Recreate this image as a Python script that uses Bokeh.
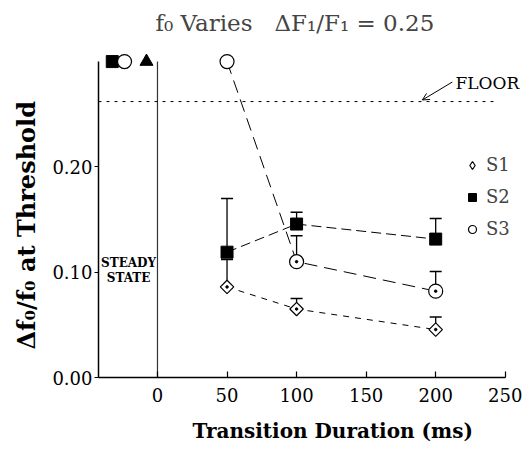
import math
from bokeh.plotting import figure
from bokeh.models import (ColumnDataSource, Whisker, TeeHead, Label, Arrow, OpenHead,
                          Legend, LegendItem, FixedTicker, NumeralTickFormatter, Range1d,
                          Title)
from bokeh.embed import file_html
from bokeh.resources import INLINE

# ---------------- data ----------------
durations = [50, 100, 200]
s1_thr = [0.086, 0.065, 0.0455]
s1_upper = [0.112, 0.075, 0.0575]
s2_thr = [0.119, 0.1457, 0.1314]
s2_upper = [0.170, 0.157, 0.151]
s3_thr = [0.300, 0.110, 0.082]
s3_upper = [float("nan"), 0.1345, 0.1007]

steady_s2_x = [-32.5]
steady_s2_y = [0.30]
steady_s3_x = [-23.7]
steady_s3_y = [0.30]
steady_tri_x = [-7.9]
steady_tri_y = [0.30]

floor_value = 0.262
floor_x_end = 243
divider_x = 0
y_top = 0.30

x_ticks = [0, 50, 100, 150, 200, 250]
y_ticks = [0.0, 0.1, 0.2]

x_start, x_end = -42.4, 266
y_start, y_end = 0.0, 0.32

SERIF = "DejaVu Serif"

p = figure(width=532, height=454, output_backend="svg", toolbar_location=None,
           x_range=Range1d(x_start, x_end), y_range=Range1d(y_start, y_end),
           min_border_left=98, min_border_right=5, min_border_top=40, min_border_bottom=76)
p.outline_line_color = None
p.xgrid.visible = False
p.ygrid.visible = False
p.background_fill_color = "white"

p.title.text = "f\u2080 Varies \u00a0\u00a0\u0394F\u2081/F\u2081 = 0.25"
p.title.text_font = SERIF
p.title.text_font_size = "23px"
p.title.text_font_style = "normal"
p.title.align = "left"
p.title.offset = 57
p.title.standoff = 10

# axis titles as side-panel titles (allows exact offsets)
p.add_layout(Title(text="Transition Duration (ms)", align="left", offset=94, standoff=24,
                   text_font=SERIF, text_font_size="20px", text_font_style="bold",
                   text_color="black"), "below")
p.add_layout(Title(text="\u0394f\u2080/f\u2080 at Threshold", align="left", offset=28, standoff=18,
                   text_font=SERIF, text_font_size="24px", text_font_style="bold",
                   text_color="black"), "left")

# axes
xa = p.xaxis[0]
xa.ticker = FixedTicker(ticks=x_ticks)
xa.bounds = (x_start, 250)
xa.major_tick_in = 6
xa.major_tick_out = 0
xa.minor_tick_line_color = None
xa.major_label_standoff = 10
xa.major_label_text_font = SERIF
xa.major_label_text_font_size = "18px"
xa.major_label_text_color = "black"
xa.axis_line_width = 1.5
xa.major_tick_line_width = 1.2

ya = p.yaxis[0]
ya.ticker = FixedTicker(ticks=y_ticks)
ya.formatter = NumeralTickFormatter(format="0.00")
ya.bounds = (0, y_top)
ya.major_tick_in = 0
ya.major_tick_out = 4
ya.minor_tick_line_color = None
ya.major_label_standoff = 2
ya.major_label_text_font = SERIF
ya.major_label_text_font_size = "18px"
ya.major_label_text_color = "black"
ya.axis_line_width = 1.5
ya.major_tick_line_width = 1.2

# reference lines
p.segment(x0=[divider_x], y0=[0], x1=[divider_x], y1=[y_top], line_color="#333333", line_width=1.2)
p.segment(x0=[x_start], y0=[floor_value], x1=[floor_x_end], y1=[floor_value],
          line_color="black", line_width=1, line_dash="3 5")

# series lines
p.line(durations, s1_thr, line_color="black", line_width=1, line_dash="6 6")
p.line(durations, s2_thr, line_color="black", line_width=1, line_dash="10 5")
p.line(durations, s3_thr, line_color="black", line_width=1, line_dash="13 7")

# markers
p.scatter(durations, s1_thr, marker="square", angle=math.pi / 4, size=9.5,
          fill_color="white", line_color="black", line_width=1.2)
r2 = p.scatter(durations, s2_thr, marker="square", size=12,
               fill_color="black", line_color="black")
r3 = p.scatter(durations, s3_thr, marker="circle", size=14,
               fill_color="white", line_color="black", line_width=1.2)
# legend-only glyph for S1 (diamond)
r1 = p.scatter([float("nan")], [float("nan")], marker="diamond", size=18,
               fill_color="white", line_color="black", line_width=1.2)

# steady-state markers
p.scatter(steady_s2_x, steady_s2_y, marker="square", size=12, fill_color="black", line_color="black")
p.scatter(steady_s3_x, steady_s3_y, marker="circle", size=14, fill_color="white",
          line_color="black", line_width=1.2)
p.scatter(steady_tri_x, steady_tri_y, marker="triangle", size=13, fill_color="black", line_color="black")

# upper error bars
def add_err(thr, upper):
    xs, base, up = [], [], []
    for x, t, u in zip(durations, thr, upper):
        if not math.isnan(u):
            xs.append(x); base.append(t); up.append(u)
    src = ColumnDataSource(dict(x=xs, lower=base, upper=up))
    w = Whisker(source=src, base="x", lower="lower", upper="upper", dimension="height",
                line_color="black", line_width=1.3,
                upper_head=TeeHead(size=12, line_color="black", line_width=1.5),
                lower_head=None)
    p.add_layout(w)
    p.scatter(xs, base, marker="circle", size=2.5, fill_color="black", line_color="black")

add_err(s1_thr, s1_upper)
add_err(s2_thr, s2_upper)
add_err(s3_thr, s3_upper)

# legend
legend = Legend(items=[LegendItem(label="S1", renderers=[r1]),
                       LegendItem(label="S2", renderers=[r2]),
                       LegendItem(label="S3", renderers=[r3])],
                location=(364, 138), orientation="vertical",
                glyph_width=20, glyph_height=20, label_height=20, spacing=11,
                label_standoff=4, padding=0, margin=0,
                border_line_color=None, background_fill_alpha=0,
                label_text_font=SERIF, label_text_font_size="18px")
p.add_layout(legend)

# texts inside the frame
p.add_layout(Label(x=214.2, y=0.2793, text="FLOOR", text_align="left", text_baseline="middle",
                   text_font=SERIF, text_font_size="17px", text_color="black"))
p.add_layout(Label(x=-20.8, y=0.1089, text="STEADY", text_align="center", text_baseline="middle",
                   text_font=SERIF, text_font_size="12px", text_font_style="bold", text_color="black"))
p.add_layout(Label(x=-20.8, y=0.0947, text="STATE", text_align="center", text_baseline="middle",
                   text_font=SERIF, text_font_size="12px", text_font_style="bold", text_color="black"))

p.add_layout(Arrow(end=OpenHead(size=7, line_width=1, line_color="black"),
                   x_start=212, y_start=0.2806, x_end=190.4, y_end=0.2635,
                   line_color="black", line_width=1))

open("out.html", "w").write(file_html(p, INLINE))
